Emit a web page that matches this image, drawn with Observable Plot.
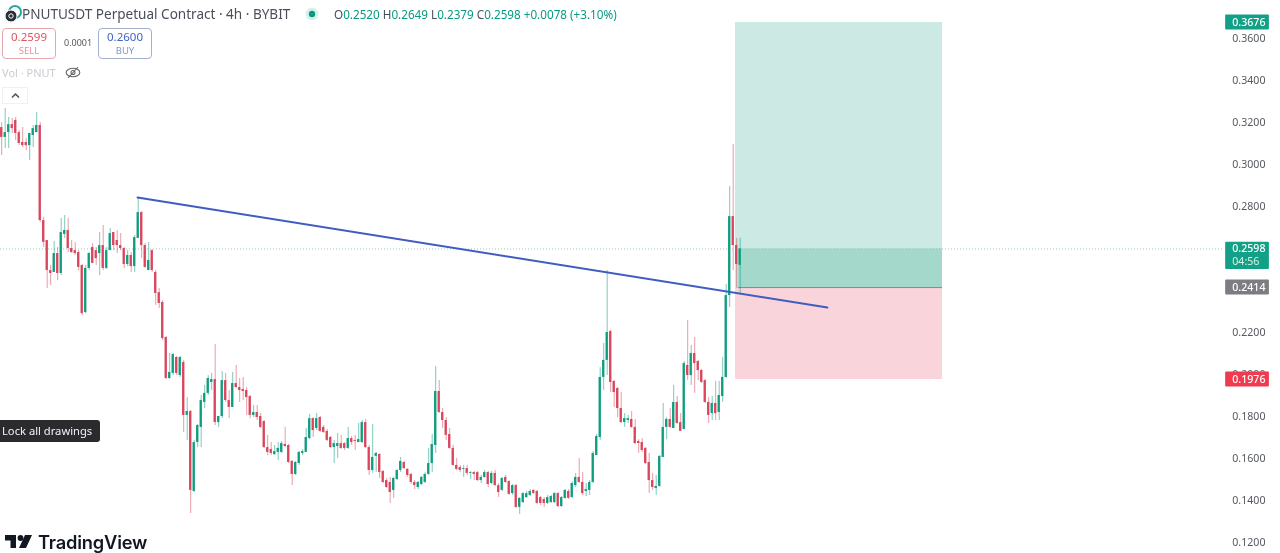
<!DOCTYPE html>
<html>
<head>
<meta charset="utf-8">
<script src="https://cdn.jsdelivr.net/npm/d3@7"></script>
<script src="https://cdn.jsdelivr.net/npm/@observablehq/plot@0.6"></script>
<style>
html,body{margin:0;padding:0;background:#fff;width:1280px;height:553px;overflow:hidden;font-family:"Noto Sans",sans-serif}
#wrap{position:relative;width:1280px;height:553px}
#chart svg{display:block;filter:blur(.55px)}
.o{position:absolute;white-space:nowrap;filter:blur(.4px)}
.box{box-sizing:border-box;width:54px;height:31px;border-radius:4px;text-align:center;font-size:11.5px;line-height:14px;padding-top:1px;background:#fff}
.box span{display:block;font-size:9.5px;line-height:13px}
</style>
</head>
<body>
<div id="wrap">
<div id="chart"></div>
<svg class="o" style="left:3px;top:4px" width="20" height="20" viewBox="0 0 20 20"><circle cx="12" cy="8" r="6" fill="none" stroke="#26a69a" stroke-width="2"/><circle cx="8" cy="12" r="6" fill="#2a2e39" stroke="#fff" stroke-width="1"/><circle cx="8" cy="12" r="2.2" fill="none" stroke="#fff" stroke-width="1"/></svg>
<div class="o" style="left:22px;top:5px;font-size:13.55px;line-height:18px;color:#4a4e59">PNUTUSDT Perpetual Contract · 4h · BYBIT</div>
<svg class="o" style="left:305px;top:7px" width="14" height="14"><circle cx="7" cy="7" r="6.5" fill="#d8f0ea"/><circle cx="7" cy="7" r="3.2" fill="#089981"/></svg>
<div id="ohlc" class="o" style="left:334px;top:6px;font-size:11.7px;line-height:16px;color:#089981"></div>
<div class="o box" style="left:2px;top:28px;border:1px solid #e6a8ae;color:#e0525f">0.2599<span style="color:#ea8f98">SELL</span></div>
<div class="o" style="left:64px;top:36px;font-size:9px;line-height:14px;color:#55585f">0.0001</div>
<div class="o box" style="left:98px;top:28px;border:1px solid #a3b1cc;color:#3f63c8">0.2600<span style="color:#8397d6">BUY</span></div>
<div class="o" style="left:2px;top:66px;font-size:11px;line-height:14px;color:#c9cbd0">Vol · PNUT</div>
<svg class="o" style="left:65px;top:65px" width="16" height="15" viewBox="0 0 16 15"><ellipse cx="8" cy="7.5" rx="6.8" ry="4.2" fill="none" stroke="#666" stroke-width="1.1"/><circle cx="8" cy="7.5" r="2" fill="none" stroke="#666" stroke-width="1.1"/><line x1="3" y1="13" x2="13" y2="2" stroke="#666" stroke-width="1.1"/></svg>
<svg class="o" style="left:2px;top:87px" width="26" height="17"><rect x=".5" y=".5" width="25" height="16" fill="#fff" stroke="#f0f0f0"/><path d="M10 10.5 L13.5 7 L17 10.5" fill="none" stroke="#4a4e59" stroke-width="1.5"/></svg>
<div class="o" style="left:0;top:420px;width:100px;height:22px;background:#2b2b2e;border-radius:0 3px 3px 0;color:#f0f3fa;font-size:11.2px;line-height:22px;padding-left:2px;box-sizing:border-box">Lock all drawings</div>
<svg class="o" style="left:5px;top:534px" width="27" height="15" viewBox="0 0 27 15"><path d="M0 1h11v13H5.5V6.5H0z M20 1h7l-6 13h-7z" fill="#131722"/><circle cx="15.5" cy="4" r="2.9" fill="#131722"/></svg>
<div class="o" style="left:38px;top:530px;font-family:Inter,Roboto,sans-serif;font-weight:600;font-size:18.3px;line-height:24px;color:#131722;letter-spacing:-.2px">TradingView</div>
</div>
<script>
const open=[.3176,.3129,.3152,.3190,.3210,.3152,.3105,.3105,.3090,.3138,.3152,.3186,.2733,.2638,.2495,.2486,.2576,.2481,.2667,.2686,.2600,.2590,.2581,.2519,.2295,.2505,.2605,.2590,.2576,.2614,.2505,.2590,.2676,.2638,.2614,.2600,.2524,.2567,.2514,.2648,.2771,.2614,.2495,.2590,.2486,.2390,.2343,.2176,.1981,.2005,.2081,.1995,.2057,.1805,.1824,.1443,.1676,.1748,.1867,.1910,.1962,.1976,.1771,.1800,.1971,.1876,.1843,.1957,.1938,.1929,.1924,.1895,.1805,.1819,.1800,.1776,.1652,.1643,.1619,.1629,.1629,.1667,.1662,.1586,.1524,.1576,.1624,.1629,.1695,.1790,.1743,.1795,.1748,.1729,.1700,.1652,.1657,.1671,.1671,.1648,.1695,.1686,.1676,.1676,.1771,.1652,.1543,.1610,.1619,.1538,.1495,.1486,.1448,.1500,.1543,.1581,.1548,.1524,.1486,.1462,.1476,.1486,.1524,.1576,.1662,.1919,.1819,.1781,.1714,.1648,.1567,.1557,.1548,.1552,.1529,.1533,.1533,.1495,.1510,.1533,.1481,.1529,.1471,.1448,.1510,.1490,.1433,.1471,.1367,.1390,.1414,.1424,.1448,.1443,.1414,.1405,.1386,.1390,.1390,.1433,.1371,.1410,.1443,.1414,.1471,.1510,.1486,.1443,.1448,.1486,.1614,.1700,.1986,.2067,.2205,.1967,.1933,.1838,.1771,.1781,.1786,.1748,.1681,.1676,.1648,.1581,.1495,.1457,.1467,.1605,.1748,.1786,.1743,.1867,.1771,.1738,.2043,.1995,.2100,.2062,.2019,.1971,.1867,.1814,.1862,.1819,.1895,.1986,.2376,.2752,.2614,.2520];
const high=[.3200,.3267,.3224,.3219,.3224,.3162,.3176,.3124,.3148,.3186,.3248,.3200,.2748,.2638,.2519,.2633,.2605,.2743,.2757,.2743,.2638,.2629,.2590,.2524,.2519,.2581,.2624,.2605,.2676,.2710,.2605,.2695,.2676,.2686,.2671,.2605,.2590,.2581,.2662,.2843,.2776,.2624,.2629,.2595,.2495,.2410,.2352,.2181,.2100,.2100,.2086,.2086,.2067,.1890,.1829,.1686,.1762,.1900,.1948,.1995,.2005,.2143,.1800,.2014,.2005,.1924,.2010,.2043,.1981,.1986,.1938,.1900,.1852,.1852,.1814,.1781,.1710,.1676,.1662,.1676,.1681,.1748,.1667,.1590,.1586,.1633,.1643,.1743,.1810,.1795,.1814,.1800,.1757,.1738,.1705,.1686,.1719,.1710,.1676,.1748,.1705,.1710,.1767,.1781,.1786,.1662,.1762,.1629,.1624,.1543,.1505,.1510,.1510,.1548,.1605,.1586,.1552,.1529,.1495,.1490,.1514,.1533,.1648,.1714,.2038,.1971,.1838,.1795,.1743,.1662,.1600,.1567,.1567,.1567,.1538,.1538,.1538,.1519,.1543,.1538,.1538,.1543,.1481,.1510,.1519,.1495,.1476,.1476,.1414,.1438,.1443,.1452,.1452,.1448,.1419,.1414,.1424,.1424,.1438,.1438,.1419,.1452,.1452,.1490,.1529,.1600,.1533,.1481,.1495,.1633,.1714,.2033,.2148,.2495,.2210,.1971,.1938,.1914,.1814,.1805,.1824,.1786,.1690,.1695,.1652,.1624,.1529,.1519,.1614,.1862,.1795,.1838,.1948,.1895,.1814,.2062,.2257,.2138,.2176,.2067,.2024,.1976,.1890,.1895,.1967,.1967,.2081,.2429,.2895,.3095,.2648,.2649];
const low=[.3043,.3076,.3076,.3148,.3114,.3090,.3081,.3067,.3019,.3081,.3152,.2724,.2605,.2410,.2424,.2486,.2448,.2471,.2648,.2581,.2576,.2567,.2495,.2281,.2290,.2495,.2529,.2519,.2471,.2495,.2500,.2590,.2590,.2576,.2590,.2505,.2514,.2486,.2486,.2648,.2552,.2505,.2495,.2486,.2329,.2314,.2162,.1976,.1976,.1995,.1995,.1986,.1724,.1686,.1338,.1438,.1652,.1652,.1838,.1900,.1924,.1757,.1748,.1790,.1867,.1790,.1843,.1933,.1867,.1876,.1805,.1790,.1795,.1781,.1743,.1648,.1614,.1614,.1614,.1590,.1624,.1652,.1576,.1471,.1519,.1567,.1614,.1629,.1690,.1700,.1733,.1724,.1719,.1681,.1648,.1576,.1600,.1643,.1638,.1643,.1662,.1638,.1676,.1671,.1648,.1519,.1529,.1533,.1505,.1481,.1457,.1386,.1410,.1495,.1533,.1548,.1510,.1476,.1452,.1452,.1471,.1481,.1519,.1533,.1624,.1814,.1743,.1686,.1643,.1562,.1543,.1533,.1510,.1519,.1500,.1495,.1490,.1481,.1505,.1462,.1476,.1467,.1414,.1443,.1481,.1424,.1424,.1362,.1333,.1386,.1410,.1419,.1429,.1381,.1376,.1367,.1381,.1386,.1386,.1367,.1367,.1405,.1405,.1410,.1462,.1481,.1424,.1419,.1424,.1481,.1614,.1686,.1924,.1995,.1914,.1843,.1795,.1767,.1748,.1767,.1743,.1667,.1624,.1629,.1571,.1433,.1448,.1424,.1462,.1605,.1690,.1743,.1743,.1762,.1729,.1738,.1971,.1948,.1910,.1971,.1957,.1862,.1767,.1781,.1781,.1781,.1867,.1981,.2319,.2495,.2410,.2379];
const close=[.3129,.3152,.3190,.3171,.3148,.3100,.3090,.3090,.3148,.3171,.3186,.2733,.2629,.2495,.2481,.2576,.2481,.2676,.2686,.2600,.2581,.2576,.2510,.2290,.2505,.2576,.2529,.2552,.2614,.2505,.2590,.2671,.2614,.2614,.2600,.2524,.2567,.2514,.2652,.2771,.2614,.2510,.2543,.2495,.2386,.2338,.2171,.1981,.2010,.2095,.2005,.2081,.1805,.1824,.1448,.1676,.1757,.1876,.1910,.1981,.1976,.1771,.1800,.1971,.1876,.1843,.1957,.1938,.1924,.1919,.1890,.1805,.1819,.1795,.1748,.1652,.1629,.1624,.1633,.1648,.1671,.1657,.1581,.1524,.1581,.1629,.1633,.1700,.1790,.1733,.1790,.1729,.1724,.1686,.1652,.1671,.1671,.1648,.1648,.1695,.1676,.1681,.1690,.1771,.1652,.1543,.1605,.1624,.1533,.1486,.1462,.1438,.1505,.1543,.1586,.1552,.1519,.1486,.1471,.1486,.1510,.1524,.1576,.1667,.1919,.1819,.1781,.1710,.1648,.1567,.1548,.1543,.1552,.1529,.1533,.1524,.1495,.1510,.1533,.1476,.1529,.1471,.1438,.1505,.1486,.1429,.1471,.1367,.1410,.1433,.1433,.1443,.1433,.1386,.1386,.1386,.1414,.1419,.1433,.1371,.1414,.1448,.1410,.1481,.1510,.1486,.1433,.1452,.1486,.1624,.1705,.1986,.2067,.2200,.1962,.1914,.1838,.1771,.1790,.1790,.1748,.1671,.1671,.1638,.1576,.1495,.1462,.1467,.1610,.1748,.1786,.1748,.1867,.1767,.1729,.2052,.1995,.2100,.2052,.2019,.1962,.1867,.1805,.1862,.1814,.1900,.1986,.2376,.2752,.2614,.2524,.2598];

const priceTicks=[.12,.14,.16,.18,.20,.22,.28,.30,.32,.34,.36];
const lastPrice=.2598, entry=.2414, target=.3676, stop=.1976;
const timer="04:56";
const trendPrices=[.2843,.2319];
const trendIndex=[38.8,235.9];
const zoneStart=209.66, zoneEnd=268.8, profitStart=210.5;
const ohlcLabels=["O","H","L","C"], ohlcValues=["0.2520","0.2649","0.2379","0.2598"], ohlcChange="+0.0078 (+3.10%)";

const GREEN="#0f9d80", RED="#d9465c";
const candles=open.map((o,i)=>({i,o,h:high[i],l:low[i],c:close[i],col:close[i]>=o?GREEN:RED}));
const xMin=-0.343, xMax=348.8;
const tagA=xMax+0.9, tagB=xMax+13.4, tagText=xMax+2.8;
const px=v=>v/2100;

document.getElementById("ohlc").innerHTML=ohlcLabels.map((l,i)=>`<span style="color:#4a4e59">${l}</span>${ohlcValues[i]}`).join("&nbsp;")+"&nbsp;"+ohlcChange;

const tags=[
 {v:target,a:px(7.5),b:px(7.5),f:"#12a087",t:"0.3676"},
 {v:entry,a:px(7.5),b:px(7.5),f:"#7b7d82",t:"0.2414"},
 {v:stop,a:px(7.5),b:px(7.5),f:"#ef3a50",t:"0.1976"},
 {v:lastPrice,a:px(6.7),b:px(20.6),f:"#12a087",t:"0.2598"}
];

const chart=Plot.plot({
  width:1280,height:553,
  marginLeft:0,marginTop:0,marginBottom:0,marginRight:58,
  x:{domain:[xMin,xMax],axis:null},
  y:{domain:[.11476,.37810],axis:null},
  color:{type:"identity"},
  style:{background:"#fff",overflow:"visible"},
  marks:[
    Plot.text(priceTicks,{x:tagText,y:d=>d,text:d=>d.toFixed(4),textAnchor:"start",fill:"#555960",fontSize:10.6,fontFamily:"Noto Sans"}),
    Plot.rect([0],{x1:zoneStart,x2:zoneEnd,y1:entry,y2:target,fill:"#cce9e3"}),
    Plot.rect([0],{x1:zoneStart,x2:zoneEnd,y1:stop,y2:entry,fill:"#f9d4da"}),
    Plot.rect([0],{x1:profitStart,x2:zoneEnd,y1:entry,y2:lastPrice,fill:"#a3d8ca"}),
    Plot.ruleY([entry],{x1:profitStart,x2:zoneEnd,stroke:"#7f8a88",strokeWidth:1}),
    Plot.ruleY([lastPrice],{stroke:"#98c8bd",strokeDasharray:"1 2",strokeWidth:1}),
    Plot.ruleX(candles,{x:"i",y1:"l",y2:"h",stroke:"col",strokeWidth:1,strokeOpacity:.55}),
    Plot.rect(candles,{x1:d=>d.i-.33,x2:d=>d.i+.33,y1:"o",y2:"c",fill:"col"}),
    Plot.line(trendIndex.map((x,k)=>({x,y:trendPrices[k]})),{x:"x",y:"y",stroke:"#3f5cc0",strokeWidth:2}),
    Plot.rect(tags,{x1:tagA,x2:tagB,y1:d=>d.v+d.a,y2:d=>d.v-d.b,fill:"f",rx:1}),
    Plot.text(tags,{x:tagText,y:"v",text:"t",textAnchor:"start",fill:"#fff",fontSize:10.6,fontFamily:"Noto Sans",fontWeight:500}),
    Plot.text([lastPrice],{x:tagText,y:d=>d,dy:13,text:[timer],textAnchor:"start",fill:"#d6f3ec",fontSize:10.6,fontFamily:"Noto Sans"})
  ]
});
document.getElementById("chart").appendChild(chart);
</script>
</body>
</html>
